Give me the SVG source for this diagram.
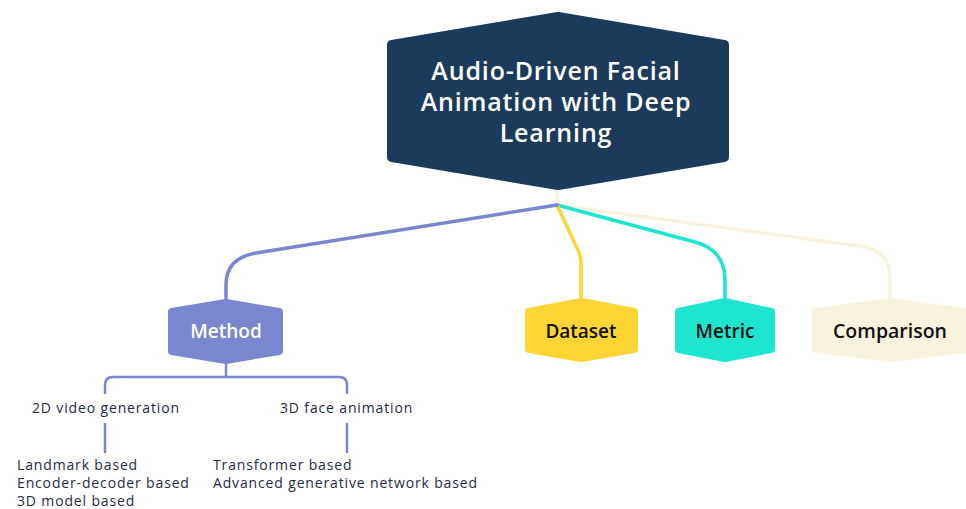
<svg xmlns="http://www.w3.org/2000/svg" width="966" height="509" viewBox="0 0 966 509">
<style>
.hex{stroke-linejoin:round}
.conn{fill:none;stroke-linecap:round;stroke-linejoin:round}
.t{font-family:"Open Sans","DejaVu Sans",sans-serif;text-anchor:middle}
.title{font-size:25px;font-weight:600;fill:#ffffff;letter-spacing:0.85px}
.lbl{font-family:"Open Sans","DejaVu Sans",sans-serif;font-size:14px;fill:#1f2a48;letter-spacing:0.85px}
</style>
<rect width="966" height="509" fill="#ffffff"/>
<g id="connectors">
<path class="conn" d="M557,190 V205" stroke="#f8f3de" stroke-width="3.5"/>
<path class="conn" d="M557,205 L860,246 Q890,250 890,278 V300" stroke="#f8f3de" stroke-width="3.5"/>
<path class="conn" d="M557,205 L695,242 Q725,250 725,280 V300" stroke="#1de5d0" stroke-width="3.5"/>
<path class="conn" d="M557,205 L577,248 Q581,255 581,263 V300" stroke="#fdd535" stroke-width="3.5"/>
<path class="conn" d="M557,205 L256,253 Q226,258 226,285 V300" stroke="#7a86ce" stroke-width="3.5"/>
<path class="conn" d="M226,362 V377 M105,393 V385 Q105,377 113,377 H339 Q347,377 347,385 V393" stroke="#7a86ce" stroke-width="2.5"/>
<path class="conn" d="M105,424 V452 M347,424 V452" stroke="#7a86ce" stroke-width="2.5"/>
</g>
<g id="root">
<polygon class="hex" points="558,17 724,45 724,157 558,185 392,157 392,45" fill="#1b3a5c" stroke="#1b3a5c" stroke-width="10"/>
<text class="t title" x="556" y="80">Audio-Driven Facial</text>
<text class="t title" x="556" y="111">Animation with Deep</text>
<text class="t title" x="556" y="142">Learning</text>
</g>
<g id="method">
<polygon class="hex" points="226,303 279,312 279,351 226,360 172,351 172,312" fill="#7a86ce" stroke="#7a86ce" stroke-width="8"/>
<text class="t" x="226" y="338" font-size="19" font-weight="600" fill="#ffffff">Method</text>
</g>
<g id="dataset">
<polygon class="hex" points="581.5,302 634,312 634,349 581.5,358 529,349 529,312" fill="#fdd535" stroke="#fdd535" stroke-width="8"/>
<text class="t" x="581" y="338" font-size="19" font-weight="600" fill="#111111">Dataset</text>
</g>
<g id="metric">
<polygon class="hex" points="725,302 771,312 771,349 725,358 679,349 679,312" fill="#1de5d0" stroke="#1de5d0" stroke-width="8"/>
<text class="t" x="725" y="338" font-size="19" font-weight="600" fill="#111111">Metric</text>
</g>
<g id="comparison">
<polygon class="hex" points="890,302 964,312 964,349 890,358 816,349 816,312" fill="#f8f3de" stroke="#f8f3de" stroke-width="8"/>
<text class="t" x="890" y="338" font-size="19.5" font-weight="600" fill="#111111">Comparison</text>
</g>
<g id="video2d">
<text class="lbl" x="32" y="413">2D video generation</text>
</g>
<g id="face3d">
<text class="lbl" x="280" y="413">3D face animation</text>
</g>
<g id="leaves2d">
<text class="lbl" x="17" y="470">Landmark based</text>
<text class="lbl" x="17" y="488">Encoder-decoder based</text>
<text class="lbl" x="17" y="506">3D model based</text>
</g>
<g id="leaves3d">
<text class="lbl" x="213" y="470">Transformer based</text>
<text class="lbl" x="213" y="488">Advanced generative network based</text>
</g>
</svg>
